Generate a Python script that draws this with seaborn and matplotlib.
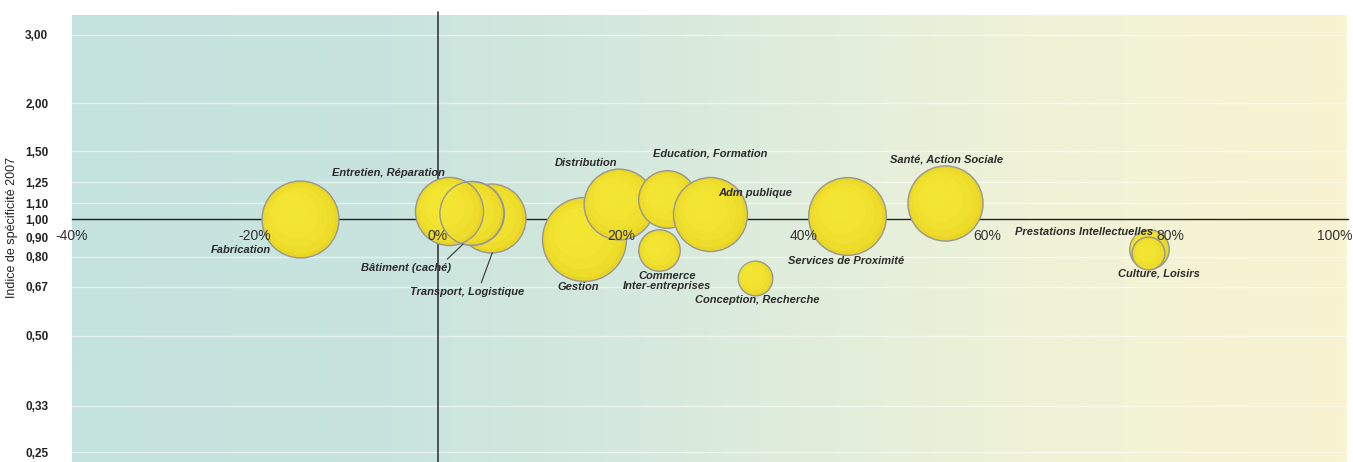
import numpy as np
import pandas as pd
import matplotlib
matplotlib.use("Agg")
import matplotlib.pyplot as plt
from matplotlib.colors import LinearSegmentedColormap
from matplotlib.ticker import NullLocator
from matplotlib.transforms import offset_copy
import seaborn as sns

# ---- data -------------------------------------------------------------
secteurs = [
    "Fabrication", "Transport, Logistique", "Bâtiment (caché)", "Entretien, Réparation",
    "Gestion", "Distribution", "Education, Formation", "Commerce\nInter-entreprises",
    "Adm publique", "Conception, Recherche", "Services de Proximité",
    "Santé, Action Sociale", "Prestations Intellectuelles", "Culture, Loisirs",
]
evolution_pct = [-15.1, 5.8, 3.7, 1.2, 16.0, 19.8, 25.0, 24.2, 29.7, 34.6, 44.7, 55.4, 77.7, 77.6]
indice_2007 = [1.00, 1.007, 1.037, 1.053, 0.890, 1.096, 1.127, 0.833, 1.033, 0.707, 1.022, 1.101, 0.840, 0.817]
poids = [14.8, 11.9, 10.2, 11.6, 17.6, 12.5, 8.3, 4.3, 13.7, 3.0, 15.1, 14.1, 3.9, 2.7]

x_ticks = [-40, -20, 0, 20, 40, 60, 80, 100]
x_labels = ["-40%", "-20%", "0%", "20%", "40%", "60%", "80%", "100%"]
y_ticks = [0.25, 0.33, 0.50, 0.67, 0.80, 0.90, 1.00, 1.10, 1.25, 1.50, 2.00, 3.00]
y_labels = ["0,25", "0,33", "0,50", "0,67", "0,80", "0,90", "1,00", "1,10", "1,25", "1,50", "2,00", "3,00"]

df = pd.DataFrame({"secteur": secteurs, "evolution": evolution_pct,
                   "indice": indice_2007, "poids": poids})

# label placement relative to the bubble centre (pixels, y up)
label_offsets = {
    "Fabrication": (-59, -31),
    "Transport, Logistique": (-24, -74),
    "Bâtiment (caché)": (-66, -55),
    "Entretien, Réparation": (-61, 38),
    "Gestion": (-6, -48),
    "Distribution": (-33, 41),
    "Education, Formation": (43, 46),
    "Commerce\nInter-entreprises": (8, -31),
    "Adm publique": (45, 21),
    "Conception, Recherche": (3, -22),
    "Services de Proximité": (-1, -45),
    "Santé, Action Sociale": (2, 44),
    "Prestations Intellectuelles": (-65, 17),
    "Culture, Loisirs": (11, -20),
}
# leader lines: angle on the bubble rim (deg) and attach point on the label box
leaders = {
    "Bâtiment (caché)": (254, (0.91, 1.0)),
    "Transport, Logistique": (272, (0.61, 1.0)),
}
outline_only_on_top = ["Bâtiment (caché)"]

# ---- style ------------------------------------------------------------
sns.set_theme(style="white")
plt.rcParams["font.family"] = ["Liberation Sans", "DejaVu Sans"]

BASE = "#e9d523"
HIGHLIGHT = "#f8ee3a"
EDGE = "#979797"
TEXT = "#2b2b2b"
DPI = 100
AREA_PER_UNIT = 207.4   # marker area (pt^2) per unit of poids

fig = plt.figure(figsize=(13.53, 4.62), dpi=DPI, facecolor="white")
ax = fig.add_axes([72 / 1353, 0.0, 1281 / 1353, 447 / 462])
ax.set_yscale("log")

# horizontal colour wash behind the data
wash = LinearSegmentedColormap.from_list("wash", [
    (0.00, "#c4e2df"), (0.25, "#c9e4de"), (0.45, "#d6e9dd"),
    (0.60, "#e2eedb"), (0.75, "#eff2d7"), (1.00, "#f9f3d1")])
ax.imshow(np.linspace(0, 1, 512)[None, :], cmap=wash, aspect="auto",
          extent=(0, 1275 / 1281, 0, 1), transform=ax.transAxes, zorder=0,
          interpolation="bilinear")

# ---- bubbles ---------------------------------------------------------
for i, row in df.iterrows():
    one = df.iloc[[i]]
    s = row.poids * AREA_PER_UNIT
    r_px = 10 * np.sqrt(row.poids)
    sns.scatterplot(data=one, x="evolution", y="indice", s=s, color=BASE,
                    edgecolor=EDGE, linewidth=1.0, zorder=3, ax=ax, legend=False)
    for f, a in [(0.92, 0.30), (0.78, 0.30), (0.6, 0.30), (0.38, 0.25)]:
        shift = (1 - f) * 0.35 * r_px
        tr = offset_copy(ax.transData, fig=fig, x=-shift, y=shift, units="dots")
        sns.scatterplot(data=one, x="evolution", y="indice", s=s * f * f,
                        color=HIGHLIGHT, linewidth=0, alpha=a, zorder=3,
                        transform=tr, ax=ax, legend=False)

# rim of the partly hidden bubble drawn again over its neighbours
for name in outline_only_on_top:
    one = df[df.secteur == name]
    ax.scatter(one.evolution, one.indice, s=one.poids * AREA_PER_UNIT,
               facecolors="none", edgecolors=EDGE, linewidths=1.0, zorder=3)

# ---- labels ---------------------------------------------------------
for _, row in df.iterrows():
    dx, dy = label_offsets[row.secteur]
    kw = dict(ha="center", va="center", fontsize=8, fontweight="bold",
              fontstyle="italic", color=TEXT, zorder=6, linespacing=1.0,
              textcoords="offset pixels")
    if row.secteur in leaders:
        ang, rel = leaders[row.secteur]
        r_px = 10 * np.sqrt(row.poids)
        ex, ey = r_px * np.cos(np.radians(ang)), r_px * np.sin(np.radians(ang))
        rim = offset_copy(ax.transData, fig=fig, x=ex, y=ey, units="dots")
        ax.annotate(row.secteur, xy=(row.evolution, row.indice), xycoords=rim,
                    xytext=(dx - ex, dy - ey),
                    arrowprops=dict(arrowstyle="-", color="#333333", lw=0.8,
                                    shrinkA=1, shrinkB=0, relpos=rel), **kw)
    else:
        ax.annotate(row.secteur, xy=(row.evolution, row.indice), xytext=(dx, dy), **kw)

# ---- axes -----------------------------------------------------------
ax.set_xlim(-40, 100)
ax.set_ylim(0.2360, 3.379)

ax.axvline(0, ymin=0, ymax=1.006, color="#2a2a2a", lw=1.1, zorder=2, clip_on=False)

for side in ("top", "right", "left"):
    ax.spines[side].set_visible(False)
ax.spines["bottom"].set_position(("data", 1.0))
ax.spines["bottom"].set_color("#222222")
ax.spines["bottom"].set_linewidth(1.0)
ax.spines["bottom"].set_zorder(2)
ax.spines["bottom"].set_bounds(-40, 99.4)

ax.set_xticks(x_ticks, labels=x_labels)
ax.get_xticklabels()[-1].set_ha("right")
ax.tick_params(axis="x", length=3, width=0.8, color="#333333", pad=4,
               labelsize=10, labelcolor="#333333", direction="out")
ax.xaxis.set_zorder(5)

ax.set_yticks(y_ticks, labels=y_labels)
ax.yaxis.set_minor_locator(NullLocator())
ax.tick_params(axis="y", length=0, pad=17)
for lab in ax.get_yticklabels():
    lab.set_fontweight("bold")
    lab.set_fontsize(8.5)
    lab.set_color("#222222")

ax.grid(axis="y", color="#ffffff", alpha=0.55, lw=1.0)
ax.grid(axis="x", visible=False)
for tick, val in zip(ax.yaxis.get_major_ticks(), y_ticks):
    if val in (0.90, 1.00):
        tick.gridline.set_visible(False)
ax.yaxis.set_zorder(1)

ax.set_xlabel("")
ax.set_ylabel("Indice de spécificité 2007", fontsize=9, color="#222222", va="center")
ax.yaxis.set_label_coords(-0.0468, 0.5246)

fig.savefig("out.png", dpi=DPI, facecolor="white")
